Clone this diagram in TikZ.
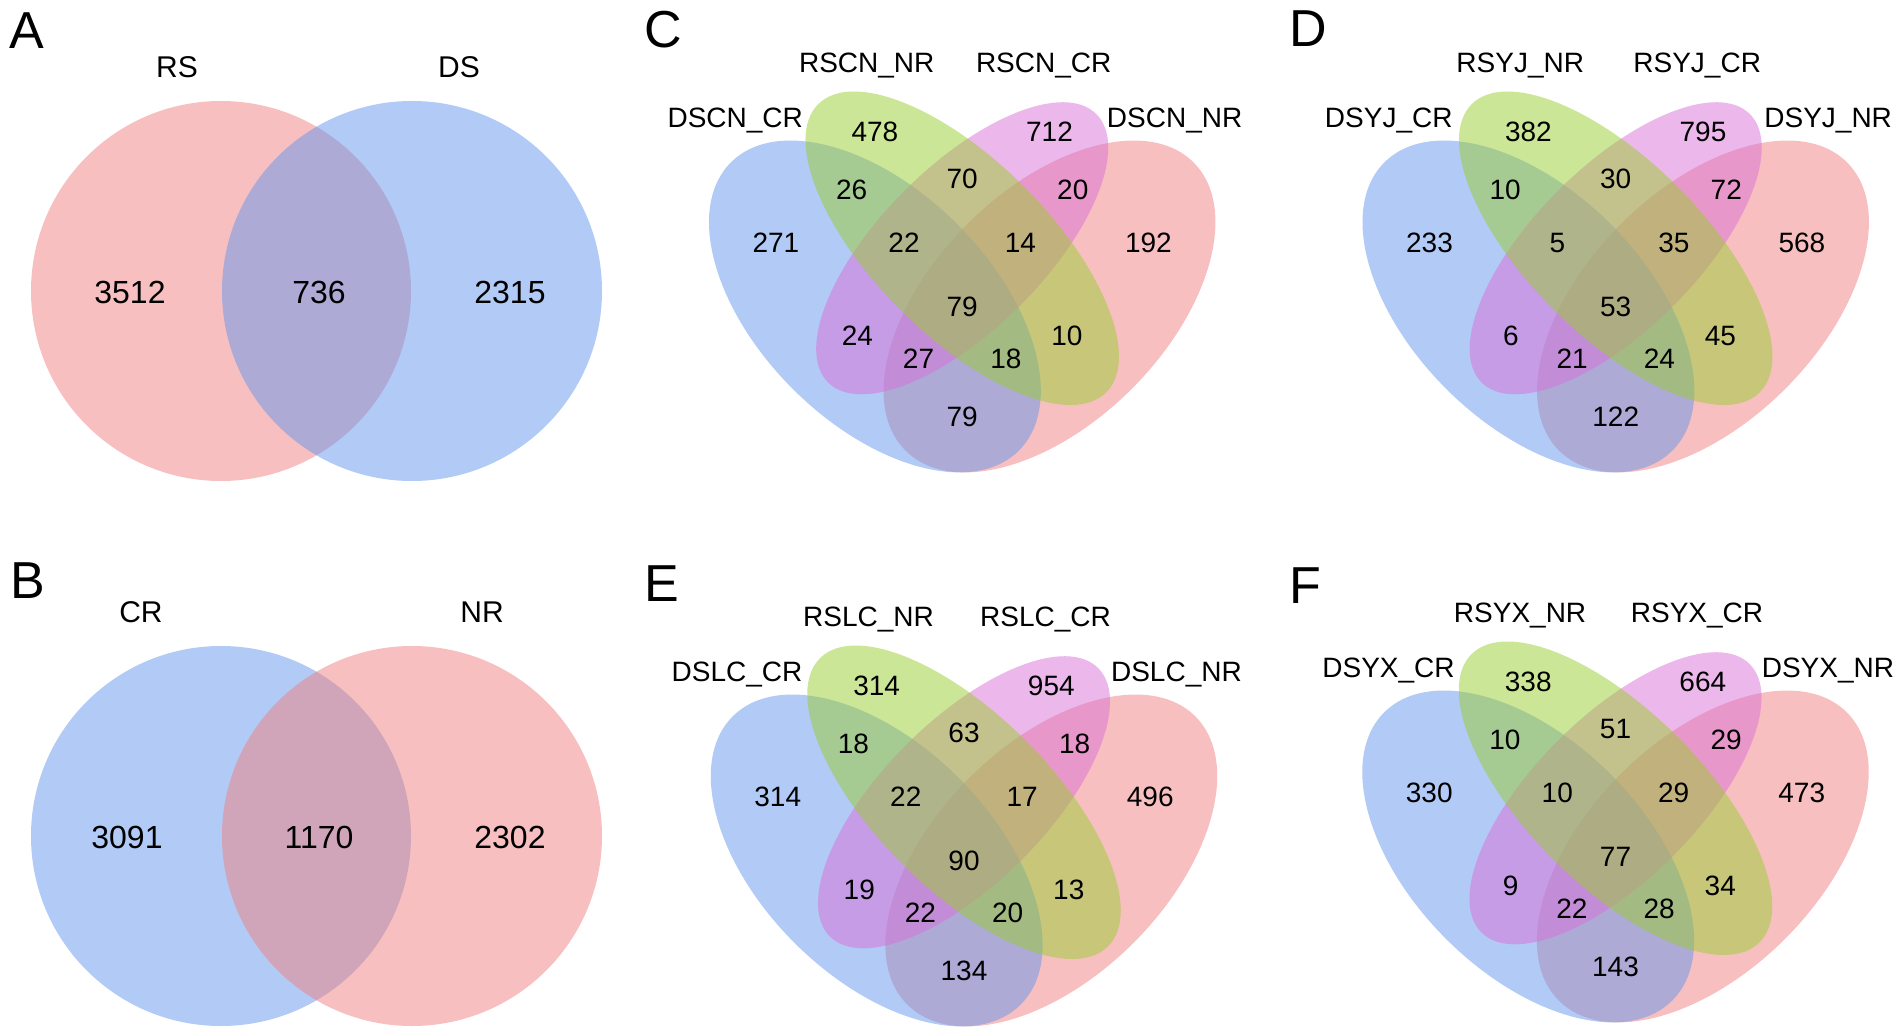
\documentclass[tikz,border=0pt]{standalone}
\usepackage{fontspec}
\setmainfont{Liberation Sans}
\usepackage{xcolor}
\usepackage{tikz}

\definecolor{vblue}{RGB}{100,149,237}
\definecolor{vred}{RGB}{240,128,128}
\definecolor{vgreen}{RGB}{154,205,50}
\definecolor{vpink}{RGB}{218,112,214}

\tikzstyle{venn} = [fill opacity=0.5]
\tikzstyle{panel} = [inner sep=0pt, text depth=0pt, font=\fontsize{52}{52}\selectfont]
\tikzstyle{twoset} = [inner sep=0pt, text depth=0pt, font=\fontsize{30}{30}\selectfont]
\tikzstyle{twonum} = [inner sep=0pt, text depth=0pt, font=\fontsize{32}{32}\selectfont]
\tikzstyle{fourset} = [inner sep=0pt, text depth=0pt, font=\fontsize{28}{28}\selectfont]
\tikzstyle{fournum} = [inner sep=0pt, text depth=0pt, font=\fontsize{28}{28}\selectfont]

% area and label places of a four-set diagram (unit square)
\def\vennax{{0.35,0.65,0.18,0.82,0.31,0.5,0.69,0.4,0.6,0.5,0.32,0.68,0.425,0.575,0.5}}
\def\vennay{{0.77,0.77,0.58,0.58,0.67,0.69,0.67,0.58,0.58,0.47,0.42,0.42,0.38,0.38,0.28}}
\def\vennlx{{0.11,0.336,0.64,0.865}}
\def\vennly{{0.794,0.889,0.889,0.794}}

% #1 name, #2 #3 lower left corner, #4 set labels, #5 area counts
\newcommand{\quadvenn}[5]{%
  \begin{scope}[shift={(#2,#3)}, x=582pt, y=582pt]
    \fill[venn, fill=vred] (0.65,0.47) ellipse [x radius=0.35, y radius=0.2, rotate=45];
    \fill[venn, fill=vblue] (0.35,0.47) ellipse [x radius=0.35, y radius=0.2, rotate=-45];
    \fill[venn, fill=vpink] (0.5,0.57) ellipse [x radius=0.326, y radius=0.14, rotate=45];
    \fill[venn, fill=vgreen] (0.5,0.57) ellipse [x radius=0.35, y radius=0.15, rotate=-45];
    \foreach \t [count=\i from 0] in {#4}
      \node[fourset] (#1-set\i) at ({\vennlx[\i]},{\vennly[\i]}) {\t};
    \foreach \n [count=\i from 0] in {#5}
      \node[fournum] (#1-area\i) at ({\vennax[\i]},{\vennay[\i]}) {\n};
  \end{scope}}

\begin{document}
\begin{tikzpicture}[x=1pt, y=-1pt]
  \useasboundingbox (0,0) rectangle (1902,1035);

  % Panel A
  \fill[venn, fill=vred] (221,291) circle [radius=190];
  \fill[venn, fill=vblue] (412,291) circle [radius=190];
  \node (labA) [panel] at (27,31) {A};
  \node (rs) [twoset] at (177,67) {RS};
  \node (ds) [twoset] at (459,67) {DS};
  \node (rsonly) [twonum] at (130,292) {3512};
  \node (rsds) [twonum] at (319,292) {736};
  \node (dsonly) [twonum] at (510,292) {2315};

  % Panel B
  \fill[venn, fill=vblue] (221,836) circle [radius=190];
  \fill[venn, fill=vred] (412,836) circle [radius=190];
  \node (labB) [panel] at (28,581) {B};
  \node (cr) [twoset] at (141,612) {CR};
  \node (nr) [twoset] at (482,612) {NR};
  \node (cronly) [twonum] at (127,837) {3091};
  \node (crnr) [twonum] at (319,837) {1170};
  \node (nronly) [twonum] at (510,837) {2302};

  % Panels C to F
  \node (labC) [panel] at (663,29) {C};
  \quadvenn{scn}{671.2}{580}{DSCN\_CR,RSCN\_NR,RSCN\_CR,DSCN\_NR}{478,712,271,192,26,70,20,22,14,79,24,10,27,18,79}
  \node (labD) [panel] at (1308,29) {D};
  \quadvenn{syj}{1324.7}{580}{DSYJ\_CR,RSYJ\_NR,RSYJ\_CR,DSYJ\_NR}{382,795,233,568,10,30,72,5,35,53,6,45,21,24,122}
  \node (labE) [panel] at (662,584) {E};
  \quadvenn{slc}{673}{1134}{DSLC\_CR,RSLC\_NR,RSLC\_CR,DSLC\_NR}{314,954,314,496,18,63,18,22,17,90,19,13,22,20,134}
  \node (labF) [panel] at (1305,586) {F};
  \quadvenn{syx}{1324.5}{1130}{DSYX\_CR,RSYX\_NR,RSYX\_CR,DSYX\_NR}{338,664,330,473,10,51,29,10,29,77,9,34,22,28,143}

\end{tikzpicture}
\end{document}
